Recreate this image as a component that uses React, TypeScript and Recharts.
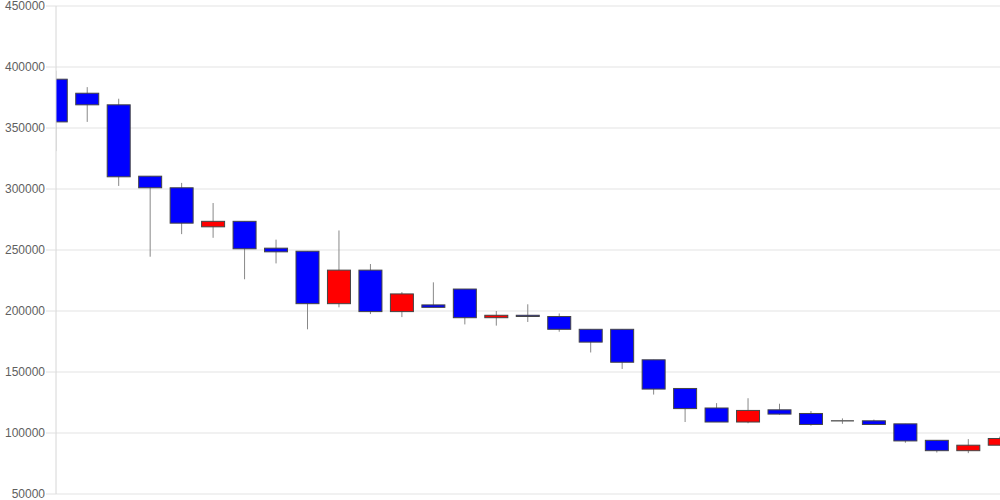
import React from "react";
import { ComposedChart, Bar, XAxis, YAxis, CartesianGrid } from "recharts";

const CATEGORIES = [0, 1, 2, 3, 4, 5, 6, 7, 8, 9, 10, 11, 12, 13, 14, 15, 16, 17, 18, 19, 20, 21, 22, 23, 24, 25, 26, 27, 28, 29, 30];
const OPEN = [390000, 378500, 369000, 310500, 301000, 269000, 273500, 251500, 249000, 206000, 233500, 199500, 205000, 218000, 194500, 196500, 195500, 185000, 185000, 160000, 136500, 120500, 109000, 119000, 116000, 110000, 110000, 107500, 94000, 85500, 90000];
const CLOSE = [355000, 369000, 310000, 301000, 272000, 273500, 251000, 248500, 206000, 233500, 199500, 214000, 203000, 194500, 196500, 195500, 185000, 174500, 158000, 136000, 120000, 109000, 118500, 115500, 107000, 110000, 107000, 93500, 85500, 90000, 95500];
const HIGH = [397000, 383500, 374000, 310500, 305000, 288500, 273500, 258500, 249000, 266000, 238500, 215500, 223500, 218000, 200000, 205500, 198000, 185000, 185000, 160000, 136500, 124500, 128500, 124000, 118000, 112000, 111000, 107500, 94000, 95000, 97000];
const LOW = [331000, 355000, 302500, 244500, 263000, 260000, 226000, 239000, 185000, 203000, 197500, 195000, 203000, 189000, 188000, 191000, 183000, 166000, 152500, 131500, 109000, 109000, 108000, 115000, 106000, 107500, 107000, 92000, 84000, 83500, 90000];
const Y_TICKS = [50000, 100000, 150000, 200000, 250000, 300000, 350000, 400000, 450000];

const data = CATEGORIES.map((c, i) => ({
  i: c,
  open: OPEN[i],
  close: CLOSE[i],
  high: HIGH[i],
  low: LOW[i],
  range: [LOW[i], HIGH[i]],
}));

const Candle = (props: any) => {
  const { x, y, width, height, payload } = props;
  if (!payload) return null;
  const { open, close, high, low } = payload;
  const span = high - low || 1;
  const py = (v: number) => y + ((high - v) / span) * height;
  const cx = x + width / 2;
  const top = py(Math.max(open, close));
  const bot = py(Math.min(open, close));
  const up = close > open;
  const flat = close === open;
  return (
    <g>
      <line x1={cx} x2={cx} y1={py(high)} y2={py(low)} stroke="#888" strokeWidth={1} />
      {flat ? (
        <line x1={x} x2={x + width} y1={top} y2={top} stroke="#666" strokeWidth={1.5} />
      ) : (
        <rect
          x={x}
          y={top}
          width={width}
          height={Math.max(bot - top, 0.5)}
          fill={up ? "#ff0000" : "#0000ff"}
          stroke="#444"
          strokeWidth={1}
        />
      )}
    </g>
  );
};

export default function App() {
  return (
    <div style={{ position: "absolute", left: 0, top: 0, width: 1000, height: 500, background: "#fff" }}>
      <ComposedChart width={1000} height={500} data={data} margin={{ top: 6, right: 0, bottom: 6, left: 0 }}>
        <CartesianGrid vertical={false} stroke="#e3e3e3" />
        <XAxis dataKey="i" type="number" domain={[0, 30]} hide allowDataOverflow />
        <YAxis
          type="number"
          domain={[50000, 450000]}
          ticks={Y_TICKS}
          width={56}
          tickSize={10}
          tickMargin={1}
          axisLine={{ stroke: "#d6d6d6" }}
          tickLine={{ stroke: "#e0e0e0" }}
          tick={{ fill: "#5f5f5f", fontSize: 12, fontFamily: "Liberation Sans, Arial, sans-serif" }}
          interval={0}
          allowDataOverflow
        />
        <Bar dataKey="range" barSize={23} shape={<Candle />} isAnimationActive={false} />
      </ComposedChart>
    </div>
  );
}
